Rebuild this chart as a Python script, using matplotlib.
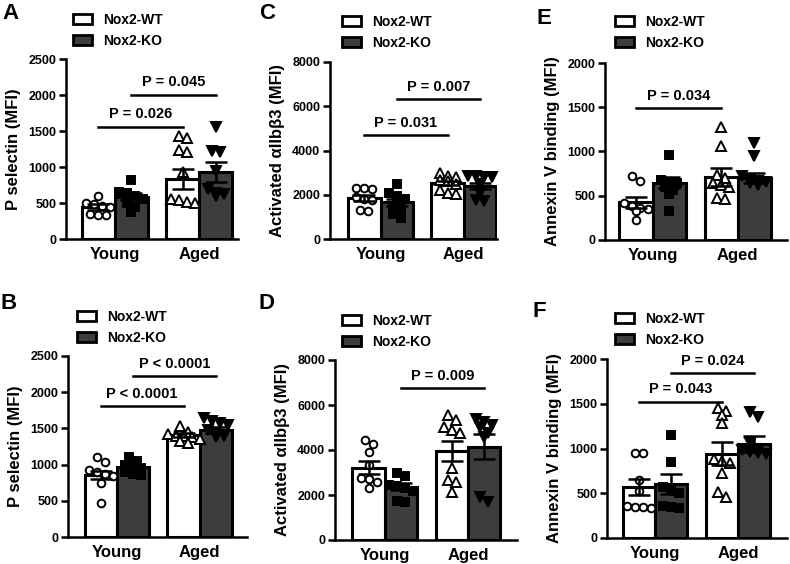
import numpy as np
import matplotlib
matplotlib.use("Agg")
import matplotlib.pyplot as plt
from matplotlib.patches import Patch

plt.rcParams['font.family'] = ['Liberation Sans', 'DejaVu Sans']
plt.rcParams['font.weight'] = 'bold'
plt.rcParams['axes.labelweight'] = 'bold'

# Data. Order in each list: Young WT, Young KO, Aged WT, Aged KO
groups = ['Young', 'Aged']
genotypes = ['Nox2-WT', 'Nox2-KO']

a_means = [440, 590, 830, 925]
a_sems = [40, 50, 140, 140]
a_points = [[600, 500, 480, 460, 450, 350, 340, 340],
            [820, 650, 640, 600, 560, 500, 450, 380],
            [1430, 1400, 1240, 1210, 930, 560, 540, 520, 500],
            [1550, 1220, 1210, 950, 700, 640, 620, 600]]
a_pvals = [('P = 0.026', 0, 2, 1560), ('P = 0.045', 1, 3, 2000)]

b_means = [857, 963, 1410, 1480]
b_sems = [60, 40, 30, 40]
b_points = [[1110, 1040, 930, 900, 870, 840, 740, 470],
            [1110, 1050, 1000, 980, 950, 900, 870, 850],
            [1530, 1450, 1420, 1400, 1390, 1380, 1350, 1320, 1300],
            [1640, 1600, 1570, 1550, 1480, 1430, 1400, 1380]]
b_pvals = [('P < 0.0001', 0, 2, 1806), ('P < 0.0001', 1, 3, 2222)]

c_means = [1850, 1650, 2540, 2400]
c_sems = [120, 180, 100, 150]
c_points = [[2300, 2300, 2250, 1900, 1800, 1750, 1300, 1250],
            [2470, 2100, 1950, 1800, 1500, 1400, 1150, 950],
            [3000, 2850, 2800, 2650, 2600, 2500, 2200, 2100, 2050],
            [2850, 2850, 2800, 2800, 2500, 2100, 1750, 1700]]
c_pvals = [('P = 0.031', 0, 2, 4690), ('P = 0.007', 1, 3, 6320)]

d_means = [3214, 2370, 3970, 4150]
d_sems = [300, 150, 450, 550]
d_points = [[4440, 4270, 3930, 3330, 2740, 2700, 2590, 2300],
            [3000, 2850, 2450, 2400, 2300, 2200, 1750, 1700],
            [5550, 5330, 5040, 4900, 4740, 3180, 2670, 2590, 2150],
            [5360, 5260, 5110, 5040, 4740, 4600, 1930, 1700]]
d_pvals = [('P = 0.009', 1, 3, 6740)]

e_means = [425, 647, 713, 702]
e_sems = [65, 60, 100, 60]
e_points = [[720, 670, 420, 380, 360, 350, 330, 230],
            [960, 680, 660, 640, 600, 560, 520, 330],
            [1280, 1060, 740, 700, 640, 620, 600, 480, 460],
            [1100, 950, 720, 690, 670, 650, 640, 620]]
e_pvals = [('P = 0.034', 0, 2, 1490)]

f_means = [571, 601, 944, 1050]
f_sems = [90, 110, 130, 90]
f_points = [[950, 950, 650, 520, 360, 350, 350, 340],
            [1150, 850, 570, 540, 500, 360, 350, 340],
            [1450, 1420, 1370, 1280, 880, 860, 840, 730, 510, 460],
            [1410, 1350, 1060, 1000, 980, 960, 950, 940]]
f_pvals = [('P = 0.043', 0, 2, 1522), ('P = 0.024', 1, 3, 1840)]

ylabel_psel = 'P selectin (MFI)'
ylabel_itg = 'Activated \u03b1IIb\u03b23 (MFI)'
ylabel_anx = 'Annexin V binding (MFI)'

W, H = 790, 564
fig = plt.figure(figsize=(W / 100, H / 100), dpi=100)

bar_w = 0.39
colors = ['white', '#3d3d3d']
markers = ['o', 's', '^', 'v']
mfaces = ['white', 'black', 'white', 'black']
msizes = [5.5, 5.5, 6.5, 6.5]


def spread(vals, px_per_unit, dx):
    # simple beeswarm: put points of similar value side by side
    vals = np.asarray(vals, dtype=float)
    order = np.argsort(vals)[::-1]
    thresh = 7.0 / px_per_unit
    clusters = []
    for i in order:
        if clusters and abs(vals[clusters[-1][0]] - vals[i]) < thresh:
            clusters[-1].append(i)
        else:
            clusters.append([i])
    offs = np.zeros(len(vals))
    for c in clusters:
        for k, i in enumerate(c):
            offs[i] = (k - (len(c) - 1) / 2) * dx
    return offs


def panel(rect, xlim, ymax, ystep, means, sems, points, pvals, ylabel, letter, letter_xy, leg_xy):
    l, r, t, b = rect
    ax = fig.add_axes([l / W, 1 - b / H, (r - l) / W, (b - t) / H])
    xs = [0 - bar_w / 2, 0 + bar_w / 2, 1 - bar_w / 2, 1 + bar_w / 2]
    px_per_unit = (b - t) / ymax
    dx = 8.0 / ((r - l) / (xlim[1] - xlim[0]))
    for i in range(4):
        ax.bar(xs[i], means[i], width=bar_w, color=colors[i % 2], edgecolor='black',
               linewidth=2.2, zorder=2)
    for i in range(4):
        offs = spread(points[i], px_per_unit, dx)
        ax.plot(xs[i] + offs, points[i], linestyle='none', marker=markers[i],
                markersize=msizes[i], markerfacecolor=mfaces[i], markeredgecolor='black',
                markeredgewidth=1.4, zorder=3, clip_on=False)
    for i in range(4):
        ax.errorbar(xs[i], means[i], yerr=sems[i], color='black', capsize=8,
                    elinewidth=1.8, capthick=1.8, zorder=4)
    for txt, i, j, y in pvals:
        ax.plot([xs[i], xs[j]], [y, y], color='black', linewidth=1.8, zorder=5)
        ax.annotate(txt, xy=((xs[i] + xs[j]) / 2, y), xytext=(0, 4), textcoords='offset points',
                    ha='center', va='bottom', fontsize=10.5, fontweight='bold')
    ax.set_xlim(*xlim)
    ax.set_ylim(0, ymax)
    ax.set_yticks(np.arange(0, ymax + 1, ystep))
    ax.set_xticks([0.0, 1.0])
    ax.set_xticklabels(groups, fontsize=12, fontweight='bold')
    ax.tick_params(axis='x', length=0, pad=6)
    ax.tick_params(axis='y', length=5, width=1.8, labelsize=9, pad=2)
    for lab in ax.get_yticklabels():
        lab.set_fontweight('bold')
    for s in ['top', 'right']:
        ax.spines[s].set_visible(False)
    for s in ['left', 'bottom']:
        ax.spines[s].set_linewidth(1.8)
    ax.set_ylabel(ylabel, fontsize=12, fontweight='bold', labelpad=5)
    handles = [Patch(facecolor=colors[0], edgecolor='black', linewidth=2),
               Patch(facecolor=colors[1], edgecolor='black', linewidth=2)]
    ax.legend(handles, genotypes, loc='upper left', bbox_to_anchor=(leg_xy[0] / W, 1 - leg_xy[1] / H),
              bbox_transform=fig.transFigure, frameon=False, handlelength=1.4, handleheight=0.7,
              handletextpad=0.8, labelspacing=0.5, borderpad=0, borderaxespad=0,
              prop={'size': 10, 'weight': 'bold'})
    fig.text(letter_xy[0] / W, 1 - letter_xy[1] / H, letter, fontsize=16, fontweight='bold',
             ha='left', va='top')
    return ax


panel((66, 238, 59, 239), (-0.58, 1.46), 2500, 500, a_means, a_sems, a_points, a_pvals,
      ylabel_psel, 'A', (2, 3), (73, 13))
panel((330, 497, 62, 239), (-0.61, 1.40), 8000, 2000, c_means, c_sems, c_points, c_pvals,
      ylabel_itg, 'C', (259, 3), (342, 15))
panel((605, 787, 63, 240), (-0.56, 1.58), 2000, 500, e_means, e_sems, e_points, e_pvals,
      ylabel_anx, 'E', (536, 8), (615, 15))
panel((68, 247, 356, 537), (-0.59, 1.57), 2500, 500, b_means, b_sems, b_points, b_pvals,
      ylabel_psel, 'B', (1, 293), (77, 310))
panel((335, 517, 360, 540), (-0.60, 1.59), 8000, 2000, d_means, d_sems, d_points, d_pvals,
      ylabel_itg, 'D', (259, 293), (342, 314))
panel((607, 787, 359, 538), (-0.58, 1.59), 2000, 500, f_means, f_sems, f_points, f_pvals,
      ylabel_anx, 'F', (532, 301), (615, 312))

fig.savefig('out.png', dpi=100)
